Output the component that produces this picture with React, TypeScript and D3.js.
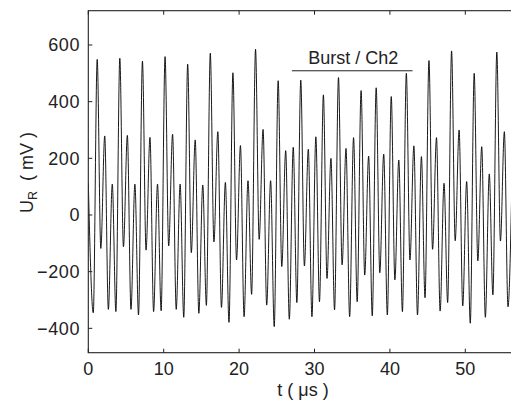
import React from "react";
import * as d3 from "d3";

// Signal extrema (mV); one peak and one trough per microsecond
const peakValues = [112, 549, 279, 109, 553, 281, 109, 543, 274, 109, 559, 285, 109, 532, 265, 106, 571, 294, 115, 502, 245, 121, 585, 302, 121, 474, 227, 239, 476, 232, 276, 424, 200, 485, 235, 273, 439, 208, 449, 215, 418, 194, 500, 244, 206, 545, 273, 112, 579, 300, 118, 500, 241, 145, 575, 294];
const troughValues = [-345, -118, -333, -341, -112, -333, -353, -124, -341, -338, -109, -333, -361, -133, -347, -319, -95, -326, -379, -159, -359, -280, -86, -318, -394, -182, -368, -309, -180, -359, -306, -224, -335, -176, -359, -306, -212, -356, -204, -353, -229, -341, -159, -353, -292, -121, -339, -309, -91, -321, -382, -162, -361, -282, -92, -324];
const peakTimes = peakValues.map((_, k) => (k === 0 ? 0 : k + 0.18));
const troughTimes = troughValues.map((_, k) => k + 0.66);
const tailPoint = { t: 56.18, v: 115 };

const xTicks = [0, 10, 20, 30, 40, 50];
const yTicks = [-400, -200, 0, 200, 400, 600];
const burstRange = [27, 43];
const burstLevel = 509;
const burstLabel = "Burst / Ch2";

const W = 511;
const H = 400;
const L = 88.3;
const T = 10.7;
const B = 352.7;

export default function App() {
  const x = d3.scaleLinear().domain([0, 56.3]).range([L, L + 56.3 * 7.54]);
  const y = d3.scaleLinear().domain([-486, 721]).range([B, T]);
  const R = x.range()[1];

  const pts: { t: number; v: number }[] = [];
  peakValues.forEach((p, k) => {
    pts.push({ t: peakTimes[k], v: p });
    pts.push({ t: troughTimes[k], v: troughValues[k] });
  });
  pts.push(tailPoint);

  const line = d3
    .line<{ t: number; v: number }>()
    .x((d) => x(d.t))
    .y((d) => y(d.v))
    .curve(d3.curveMonotoneX);

  const font = "'Liberation Sans', Arial, Helvetica, sans-serif";
  const fs = 18;

  return (
    <svg
      width={W}
      height={H}
      style={{ position: "absolute", left: 0, top: 0, background: "#fff" }}
      fontFamily={font}
    >
      <defs>
        <clipPath id="plotclip">
          <rect x={L} y={T} width={R - L} height={B - T} />
        </clipPath>
      </defs>
      <rect x={0} y={0} width={W} height={H} fill="#fff" />
      <path
        d={line(pts) || ""}
        fill="none"
        stroke="#000"
        strokeWidth={0.9}
        clipPath="url(#plotclip)"
      />
      {/* axes box */}
      <rect x={L} y={T} width={R - L} height={B - T} fill="none" stroke="#222" strokeWidth={1.1} />
      {xTicks.map((t) => (
        <g key={"xt" + t}>
          <line x1={x(t)} x2={x(t)} y1={B} y2={B - 4} stroke="#222" />
          <line x1={x(t)} x2={x(t)} y1={T} y2={T + 4} stroke="#222" />
          <text x={x(t)} y={375} fontSize={fs} textAnchor="middle" fill="#222">
            {t}
          </text>
        </g>
      ))}
      {yTicks.map((v) => (
        <g key={"yt" + v}>
          <line x1={L} x2={L + 4} y1={y(v)} y2={y(v)} stroke="#222" />
          <text x={80} y={y(v) + 6.3} fontSize={fs} textAnchor="end" fill="#222" letterSpacing={0.6}>
            {v < 0 ? "\u2212" + Math.abs(v) : v}
          </text>
        </g>
      ))}
      {/* annotation */}
      <line
        x1={x(burstRange[0])}
        x2={x(burstRange[1])}
        y1={y(burstLevel)}
        y2={y(burstLevel)}
        stroke="#222"
        strokeWidth={1}
      />
      <text
        x={x((burstRange[0] + burstRange[1]) / 2) + 1}
        y={64}
        fontSize={fs}
        textAnchor="middle"
        fill="#222"
      >
        {burstLabel}
      </text>
      {/* axis labels */}
      <text x={303} y={396} fontSize={fs} textAnchor="middle" fill="#222" style={{ whiteSpace: "pre" }}>
        {"t ( μs )"}
      </text>
      <text
        transform="translate(33,213) rotate(-90)"
        fontSize={fs}
        textAnchor="start"
        fill="#222"
        style={{ whiteSpace: "pre" }}
      >
        U
        <tspan fontSize={12.5} dy={4}>R</tspan>
        <tspan dy={-4}>{"  ( mV )"}</tspan>
      </text>
    </svg>
  );
}
